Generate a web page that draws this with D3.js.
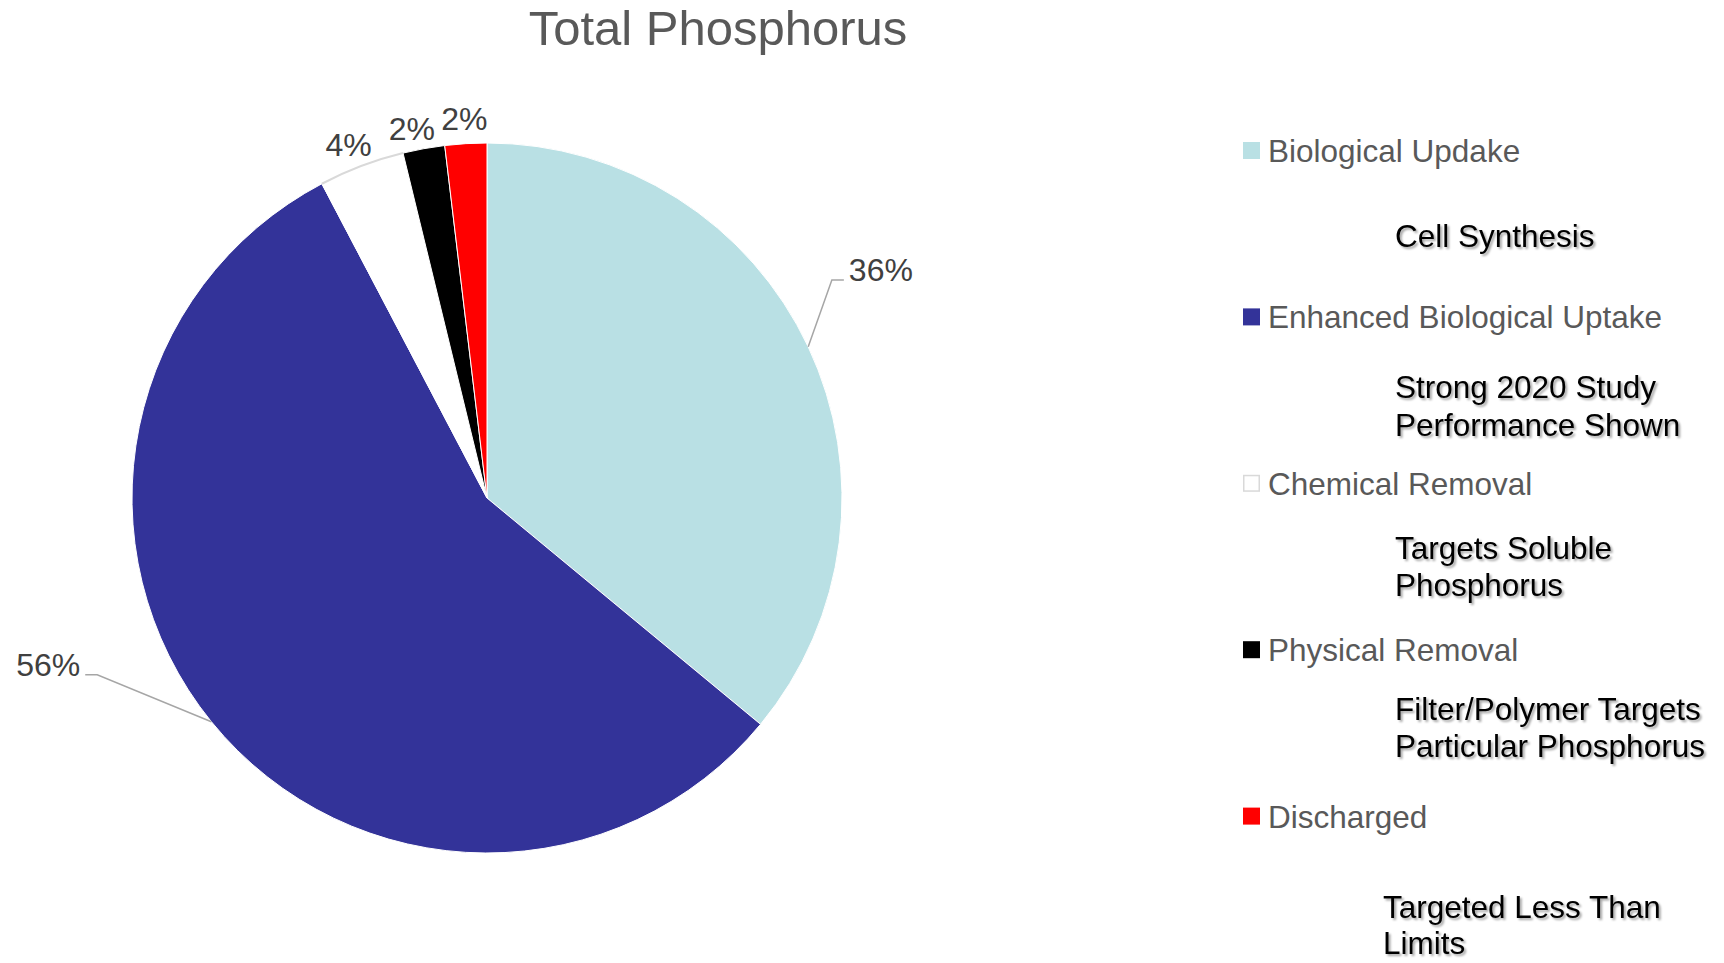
<!DOCTYPE html>
<html><head><meta charset="utf-8">
<script src="https://cdn.jsdelivr.net/npm/d3@7"></script>
<style>
html,body{margin:0;padding:0;background:#fff;}
svg{display:block;font-family:"Liberation Sans",Arial,sans-serif;}
</style></head>
<body>
<script>
// ---- data ----
const title = "Total Phosphorus";
const categories = ["Biological Updake","Enhanced Biological Uptake","Chemical Removal","Physical Removal","Discharged"];
const values = [36, 56.3, 3.9, 1.9, 1.9];
const colors = ["#B9E0E4","#333399","#FFFFFF","#000000","#FF0000"];
const notes = [["Cell Synthesis"],["Strong 2020 Study","Performance Shown"],["Targets Soluble","Phosphorus"],["Filter/Polymer Targets","Particular Phosphorus"],["Targeted Less Than","Limits"]];

// ---- layout ----
const W = 1724, H = 963;
const cx = 487, cy = 498, R = 355;
const svg = d3.select("body").append("svg").attr("width", W).attr("height", H);

const defs = svg.append("defs");
const f = defs.append("filter").attr("id","shadow").attr("x","-10%").attr("y","-30%").attr("width","130%").attr("height","170%");
f.append("feDropShadow").attr("dx",2).attr("dy",2).attr("stdDeviation",1.2).attr("flood-color","#000").attr("flood-opacity",0.35);

svg.append("text").attr("x", 718).attr("y", 45).attr("text-anchor","middle")
  .attr("font-size", 49).attr("fill","#595959").text(title);

const total = d3.sum(values);
const pie = d3.pie().sort(null).value(d => d)(values);
const arc = d3.arc().innerRadius(0).outerRadius(R);
const g = svg.append("g").attr("transform", `translate(${cx},${cy})`);

g.selectAll("path.slice").data(pie).join("path").attr("class","slice")
  .attr("d", arc).attr("fill", (d,i) => colors[i])
  .attr("stroke", "#fff").attr("stroke-width", 1);

// outline on the white slice's outer edge
const rim = d3.arc().innerRadius(R).outerRadius(R);
g.append("path").attr("d", rim(pie[2])).attr("fill","none").attr("stroke","#d9d9d9").attr("stroke-width",2);

const pct = v => Math.round(v / total * 100) + "%";
const polar = (a, r) => [r * Math.sin(a), -r * Math.cos(a)];
const mid = d => (d.startAngle + d.endAngle) / 2;
const deg = Math.PI / 180;

// labels with leader lines (large slices): elbow given as polar angle/radius
const leader = {0: {a: 57.7 * deg, r: 408, side: 1}, 1: {a: 245.6 * deg, r: 428, side: -1}};
const smallShift = {2: {da: -0.6 * deg, r: 381}, 3: {da: -1.2 * deg, r: 378}, 4: {da: 0, r: 381}};
pie.forEach((d, i) => {
  if (leader[i]) {
    const L = leader[i];
    const p0 = polar(mid(d), R);
    const p1 = polar(L.a, L.r);
    const p2 = [p1[0] + L.side * 12, p1[1]];
    g.append("polyline").attr("points", [p0, p1, p2].map(p => p.join(",")).join(" "))
      .attr("fill","none").attr("stroke","#a6a6a6").attr("stroke-width",1.5);
    g.append("text").attr("x", p2[0] + L.side * 5).attr("y", p2[1]).attr("dy","0.03em")
      .attr("text-anchor", L.side > 0 ? "start" : "end")
      .attr("font-size", 32).attr("fill","#404040").text(pct(d.value));
  } else {
    const s = smallShift[i];
    const p = polar(mid(d) + s.da, s.r);
    g.append("text").attr("x", p[0]).attr("y", p[1]).attr("dy","0.4em")
      .attr("text-anchor","middle").attr("font-size", 32).attr("fill","#404040").text(pct(d.value));
  }
});

// legend
const legX = 1243, legY0 = 162, legStep = 166.4;
const noteLayout = [{x:1395, dy:85, lh:37.5},{x:1395, dy:70, lh:37.5},{x:1395, dy:64, lh:37.5},{x:1395, dy:58.3, lh:37.5},{x:1383, dy:90, lh:36.5}];
categories.forEach((c, i) => {
  const y = legY0 + i * legStep;
  svg.append("rect").attr("x", legX + (i===2?0.75:0)).attr("y", y - 20 + (i===2?0.75:0))
    .attr("width", i===2?15.5:17).attr("height", i===2?15.5:17)
    .attr("fill", colors[i]).attr("stroke", i===2 ? "#d9d9d9" : "none").attr("stroke-width", 1.5);
  svg.append("text").attr("x", legX + 25).attr("y", y).attr("font-size", 31.5).attr("fill","#595959").text(c);
  const nl = noteLayout[i];
  const t = svg.append("text").attr("x", nl.x).attr("y", y + nl.dy).attr("font-size", 31.5)
    .attr("fill","#000").attr("filter","url(#shadow)");
  notes[i].forEach((line, k) => {
    t.append("tspan").attr("x", nl.x).attr("dy", k === 0 ? 0 : nl.lh).text(line);
  });
});
</script>
</body></html>
